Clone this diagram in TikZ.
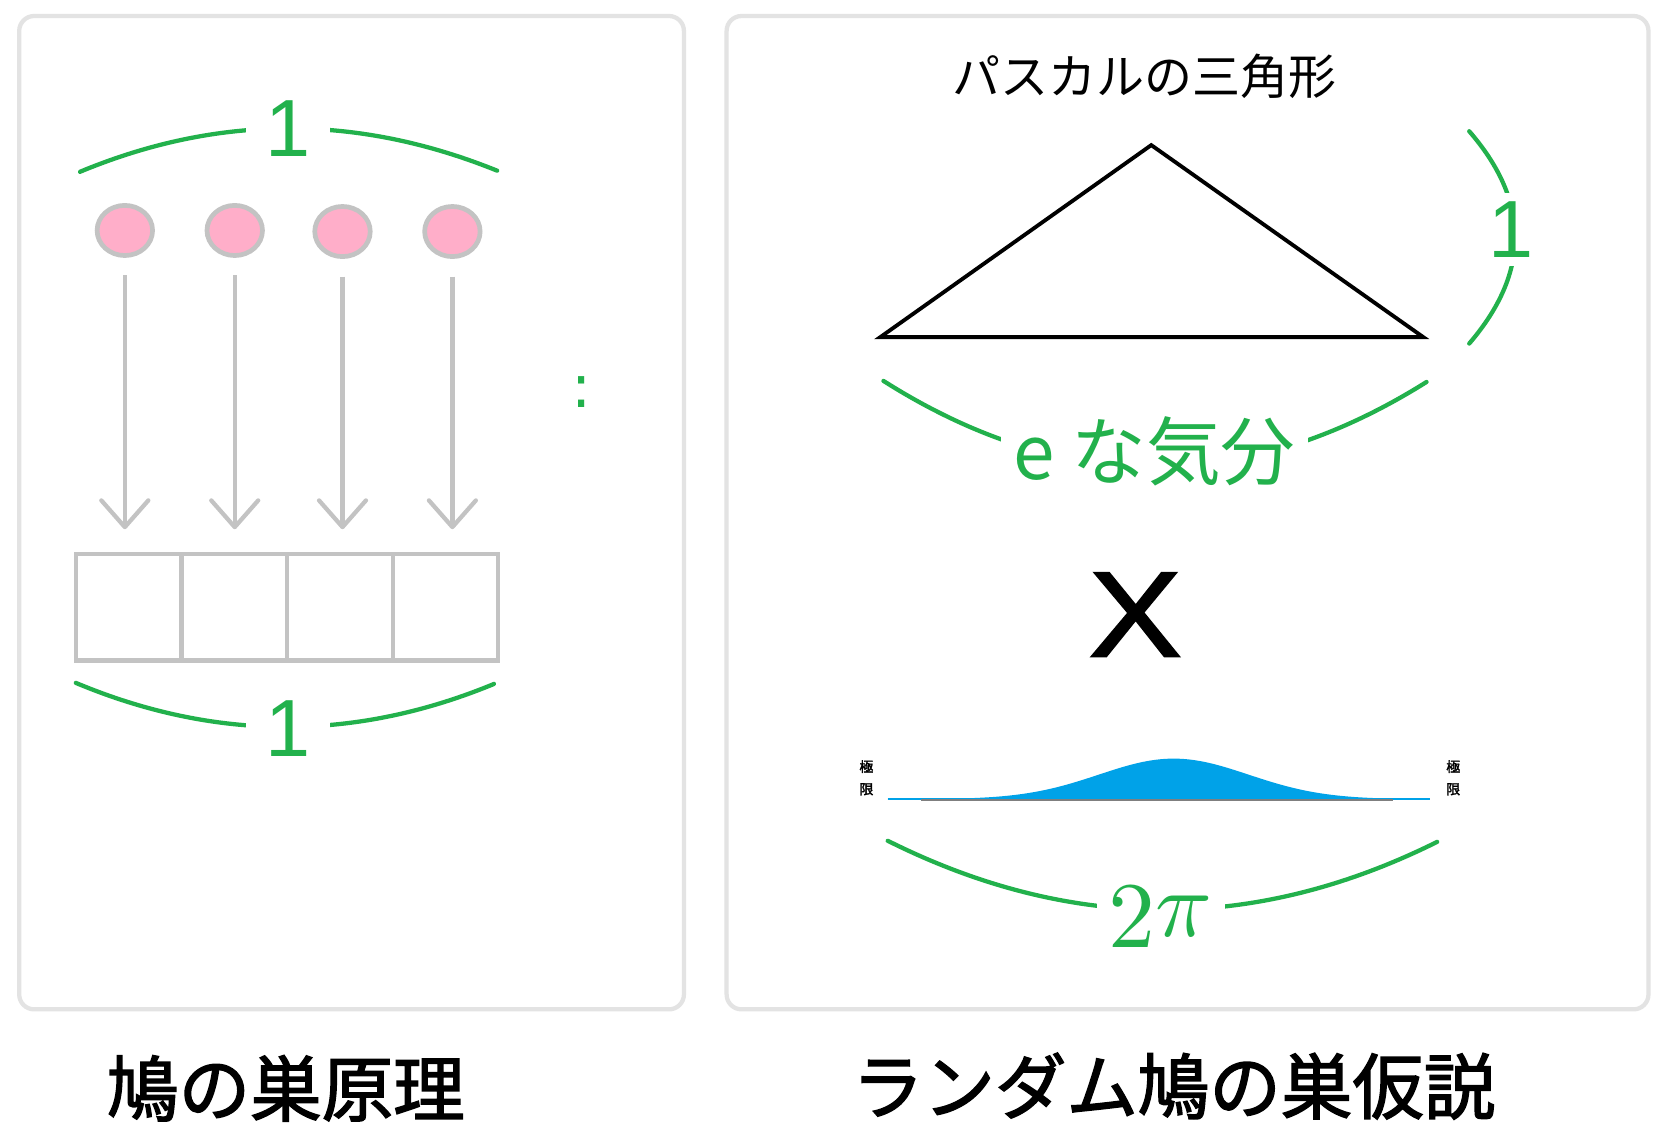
\documentclass[tikz,border=0pt]{standalone}
\usepackage{graphicx}
\usepackage{fontspec}
\newfontfamily\jp{Noto Sans CJK JP}
\newfontfamily\jpb{Noto Sans CJK JP}[FakeBold=2]
\newfontfamily\lsans{Liberation Sans}
\newfontfamily\lsansx{Liberation Sans}[FakeBold=1.5]
\newfontfamily\dsans{DejaVu Sans}
\usetikzlibrary{shapes.geometric,arrows.meta}
\definecolor{pgreen}{HTML}{22B14C}
\definecolor{ppink}{HTML}{FFAEC9}
\definecolor{pgray}{HTML}{C3C3C3}
\definecolor{pblue}{HTML}{00A2E8}
\definecolor{pframe}{HTML}{E3E3E3}
\definecolor{pbase}{HTML}{7F7F7F}
\begin{document}
\begin{tikzpicture}[x=0.5pt,y=-0.5pt,
  panel/.style={draw=pframe,line width=2pt,rounded corners=7pt},
  pigeon/.style={ellipse,draw=pgray,fill=ppink,line width=2.2pt,minimum width=26pt,minimum height=23.5pt,inner sep=0pt},
  nest/.style={rectangle,draw=pgray,line width=2pt,minimum width=49.5pt,minimum height=50pt,inner sep=0pt,outer sep=0pt},
  fly/.style={draw=pgray,line width=2pt,-{Straight Barb[length=12.5pt,width=22pt,round]},shorten <=8.25pt,shorten >=11.5pt},
  brace/.style={draw=pgreen,line width=2pt,line cap=round},
  glabel/.style={fill=white,text=pgreen,inner sep=0pt},
  one/.style={glabel,font=\lsans\fontsize{38}{38}\selectfont},
  capt/.style={font=\jpb\fontsize{33.5}{33.5}\selectfont},
  lim/.style={font=\jpb\fontsize{6.5}{10.5}\selectfont,align=center,inner sep=0pt},
]
\useasboundingbox (0,0) rectangle (1568,1070);
\fill[white] (0,0) rectangle (1568,1070);

% panels
\draw[panel] (18,15) rectangle (641,946);
\draw[panel] (681,15) rectangle (1545,946);

% left panel: pigeons and holes
\node[pigeon] (c1) at (117,216) {};
\node[pigeon] (c2) at (220,216) {};
\node[pigeon] (c3) at (321,217) {};
\node[pigeon] (c4) at (424,217) {};
\node[nest] (b1) at (120.5,569) {};
\node[nest] (b2) at (219.5,569) {};
\node[nest] (b3) at (318.5,569) {};
\node[nest] (b4) at (417.5,569) {};
\draw[fly] (c1) -- (c1 |- b1.north);
\draw[fly] (c2) -- (c2 |- b2.north);
\draw[fly] (c3) -- (c3 |- b3.north);
\draw[fly] (c4) -- (c4 |- b4.north);

\draw[brace] (75,161) .. controls (205,107) and (335,107) .. (466,160);
\node[one,minimum width=39pt] (topone) at (270,121) {1};
\draw[brace] (71,640) .. controls (201.7,694.7) and (332.3,695) .. (463,641);
\node[one,minimum width=39pt] (botone) at (270,683) {1};

\node[text=pgreen,font=\dsans\fontsize{28}{28}\selectfont] (colon) at (545,367) {:};

% right panel
\node[font=\jp\fontsize{22.5}{22.5}\selectfont] (title) at (1073,72) {パスカルの三角形};
\coordinate (tl) at (825,316);
\coordinate (tt) at (1079,136);
\coordinate (tr) at (1334,316);
\draw[line width=1.8pt,line join=miter] (tl) -- (tt) -- (tr) -- cycle;

\draw[brace] (1377,123) .. controls (1434.3,189) and (1434.3,255.3) .. (1377,322);
\node[one,minimum height=34pt] (sideone) at (1416,215) {1};

\draw[brace] (828,357) .. controls (997.3,464.3) and (1167,464.7) .. (1337,358);
\node[glabel,font=\jp\fontsize{35}{35}\selectfont,inner xsep=6pt] (feel) at (1082,423) {e な気分};

\node[font=\lsansx\fontsize{57}{57}\selectfont] (times) at (1064,576) {\scalebox{1.15}[1]{X}};

\fill[pblue] plot[domain=832:1340,samples=150] (\x,{749-38*exp(-((\x-1100)/70)^2/2)}) -- cycle;
\draw[pblue,line width=1pt] (832,749) -- (1340,749);
\draw[pbase,line width=0.8pt] (863,749.5) -- (1306,749.5);
\node[lim] (lim1) at (812,729) {極\\限};
\node[lim] (lim2) at (1362,729) {極\\限};

\draw[brace] (832,788) .. controls (1004,874) and (1175.7,874.3) .. (1347,789);
\node[glabel,minimum width=60pt,minimum height=30pt] (twopi) at (1088,860) {\scalebox{4.4}{$2\raisebox{1.2pt}{$\pi$}$}};

% captions
\node[capt] (cap1) at (268,1020) {鳩の巣原理};
\node[capt] (cap2) at (1100,1018) {ランダム鳩の巣仮説};
\end{tikzpicture}
\end{document}
